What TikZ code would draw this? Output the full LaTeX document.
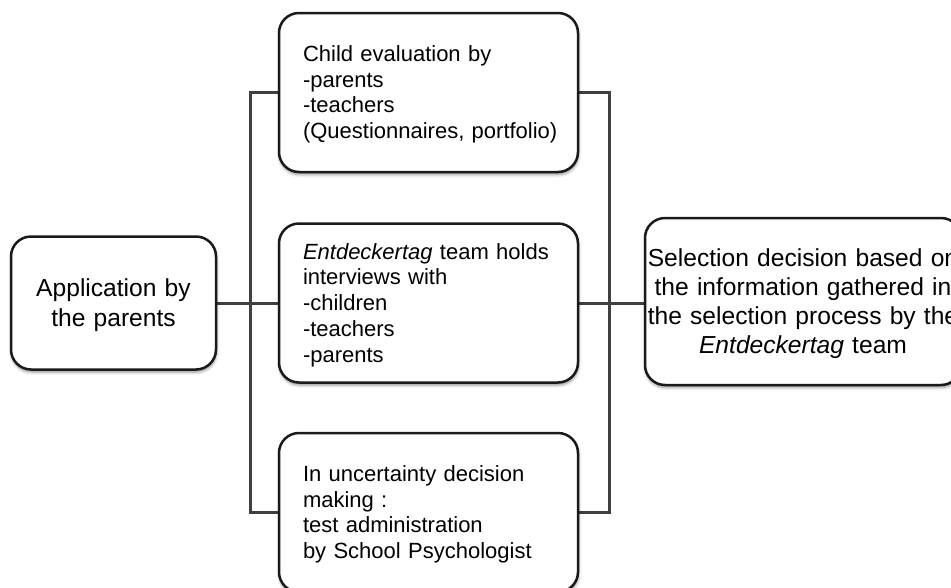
\documentclass[tikz,border=0pt]{standalone}
\usepackage{fontspec}
\setmainfont{Liberation Sans}
\usetikzlibrary{shadows.blur,backgrounds}
\definecolor{conncol}{HTML}{404040}
\definecolor{boxline}{HTML}{1A1A1A}
\begin{document}
\begin{tikzpicture}[x=1pt,y=-1pt,
  box/.style={draw=boxline, line width=2.5pt, fill=white, rounded corners=20pt,
    blur shadow={shadow xshift=0.5pt, shadow yshift=-2.5pt, shadow blur radius=3pt, shadow opacity=45},
    execute at begin node={\rule{0pt}{0.905em}},
    execute at end node={\rule[-0.212em]{0pt}{0pt}}},
  midbox/.style={box, minimum width=299pt, minimum height=159pt, text width=251pt,
    inner xsep=24pt, align=left, font=\fontsize{22}{25.7}\selectfont},
  sidebox/.style={box, inner xsep=0pt, align=center, font=\fontsize{24.6}{29.2}\selectfont},
  conn/.style={draw=conncol, line width=3pt}]
\useasboundingbox (0,0) rectangle (951,587);
\begin{scope}
\clip (0,0) rectangle (951,587);
\node[sidebox, text width=205pt, minimum height=133pt] (app) at (113.5,303)
  {\mbox{Application by}\\\mbox{the parents}};
\node[midbox] (top) at (428.5,92.5)
  {Child evaluation by\\-parents\\-teachers\\\mbox{(Questionnaires, portfolio)}};
\node[midbox] (mid) at (428.5,303)
  {\textit{Entdeckertag} team holds\\interviews with\\-children\\-teachers\\-parents};
\node[midbox] (bot) at (428.5,512.5)
  {In uncertainty decision\\making :\\test administration\\by School Psychologist};
\node[sidebox, text width=316pt, minimum height=167pt] (sel) at (803,301.5)
  {\mbox{Selection decision based on}\\\mbox{the information gathered in}\\\mbox{the selection process by the}\\\mbox{\textit{Entdeckertag} team}};
\end{scope}
\begin{scope}[on background layer]
\coordinate (bl) at (250,0);
\coordinate (br) at (609,0);
\draw[conn] (app.east) -- (mid.west);
\draw[conn] (top.west) -- (top.west -| bl) -- (bot.west -| bl) -- (bot.west);
\draw[conn] (mid.east) -- (mid.east -| sel.west);
\draw[conn] (top.east) -- (top.east -| br) -- (bot.east -| br) -- (bot.east);
\end{scope}
\end{tikzpicture}
\end{document}
